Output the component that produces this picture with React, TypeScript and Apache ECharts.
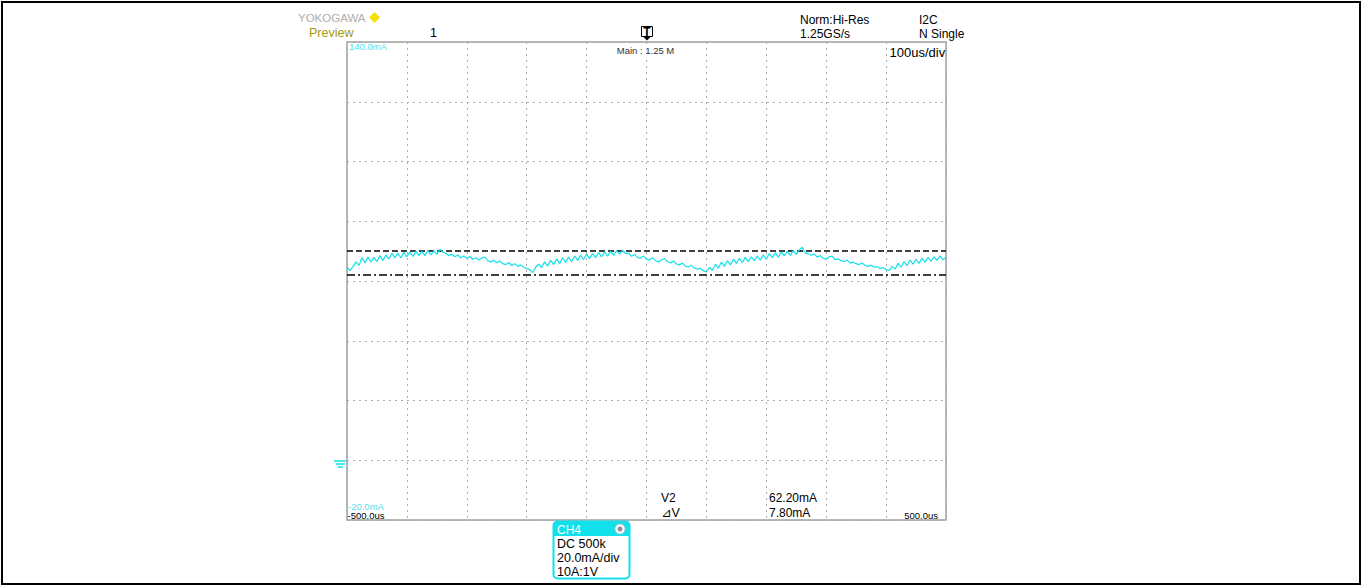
import React, { useEffect, useRef } from "react";
import * as echarts from "echarts";

// Time axis (µs)
const X_MIN = -500;
const X_MAX = 500;
const X_STEP = 100;
const SAMPLE_START_US = -500;
const SAMPLE_STEP_US = 5;

// Current axis (mA)
const Y_MIN = -20;
const Y_MAX = 140;
const Y_STEP = 20;

// Cursor levels (mA)
const CURSOR_V1 = 70.0;
const CURSOR_V2 = 62.2;

// CH4 current trace (mA), one sample every 5 µs from -500 µs to +500 µs
const CH4_MA = [
  64.6, 63.5, 64.8, 66.4, 65.2, 67.8, 66.0, 68.0, 66.4, 67.9,
  66.5, 68.5, 66.9, 68.7, 67.4, 69.3, 67.8, 69.3, 67.7, 69.6,
  68.1, 69.8, 68.2, 70.0, 68.5, 69.9, 68.5, 70.3, 68.7, 70.2,
  68.9, 70.6, 69.8,
  69.2, 68.5, 69.0, 68.1, 68.7, 67.8, 68.4, 67.6, 68.2, 67.3,
  67.8, 67.0, 67.7, 68.0, 66.8, 66.4, 67.0, 66.1, 66.7, 65.8,
  65.5, 66.2, 65.2, 65.8, 64.9, 65.4, 64.6, 64.2, 63.8, 62.8,
  64.6, 65.6, 64.5, 66.4, 65.0, 66.9, 65.5, 67.4, 65.8, 67.8,
  66.2, 68.0, 66.5, 68.4, 66.9, 68.6, 67.2, 69.0, 67.5, 69.2,
  67.8, 69.5, 68.1, 69.8, 68.3, 70.0, 68.6, 70.2, 69.0, 70.3,
  69.2, 69.3, 68.3, 68.9, 67.9, 67.6, 68.4, 67.3, 67.0, 67.8,
  66.8, 66.4, 67.0, 67.6, 66.5, 66.0, 66.7, 65.7, 65.4, 66.0,
  65.0, 64.7, 65.3, 64.3, 64.0, 64.2, 63.4, 63.0,
  64.5, 63.6, 65.6, 64.3, 66.3, 64.9, 66.8, 65.4, 67.3, 65.9,
  67.6, 66.2, 67.9, 66.5, 68.1, 66.8, 68.3, 67.0, 68.8, 67.3,
  69.2, 67.8, 69.4, 68.0, 69.7, 68.4, 69.9, 68.6, 70.2, 68.9,
  70.4, 71.3,
  69.4, 69.1, 68.6, 69.0, 68.0, 68.5, 67.6, 67.3, 68.1, 68.3,
  67.1, 67.4, 66.8, 66.5, 67.0, 66.0, 66.3, 65.8, 65.5, 66.0,
  65.2, 64.9, 65.3, 64.6, 64.8, 64.2, 64.5, 63.8, 63.5,
  64.9, 64.0, 65.9, 64.6, 66.5, 65.1, 67.0, 65.6, 67.3, 65.9,
  67.6, 66.3, 67.9, 66.6, 68.1, 66.9, 68.4, 67.1, 68.0,
];

// Texts
const HEADER_LEFT = ["YOKOGAWA", "Preview", "1"];
const HEADER_RIGHT = ["Norm:Hi-Res", "1.25GS/s", "I2C", "N Single"];
const PLOT_LABELS = ["140.0mA", "Main : 1.25 M", "100us/div", "-20.0mA", "-500.0us", "500.0us"];
const CURSOR_TEXT = ["V2", "62.20mA", "\u22BFV", "7.80mA"];
const CH_BOX = ["CH4", "DC 500k", "20.0mA/div", "10A:1V"];

const FONT = '"Liberation Sans", Arial, "DejaVu Sans", sans-serif';
const CYAN = "#12E0EA";
const CYAN_TEXT = "#4CE3F0";

export default function App() {
  const ref = useRef<HTMLDivElement>(null);

  useEffect(() => {
    if (!ref.current) return;
    const chart = echarts.init(ref.current, undefined, { renderer: "svg" });
    const data = CH4_MA.map((v, i) => [SAMPLE_START_US + i * SAMPLE_STEP_US, v]);

    const t = (text: string, x: number, y: number, size: number, fill: string, align = "left", extra: any = {}) => ({
      type: "text",
      style: { text, x, y, font: `${size}px ${FONT}`, fill, align, verticalAlign: "middle", ...extra },
      z: 100,
    });

    const graphic: any[] = [
      { type: "rect", shape: { x: 2, y: 2, width: 1358, height: 582 }, style: { fill: "none", stroke: "#000", lineWidth: 2 }, z: 100 },
      t(HEADER_LEFT[0], 298, 17.5, 11.5, "#ADADAD"),
      { type: "polygon", shape: { points: [[374.5, 12], [380, 17.5], [374.5, 23], [369, 17.5]] }, style: { fill: "#F2E400" }, z: 100 },
      t(HEADER_LEFT[1], 309, 33, 12.5, "#A39A12"),
      t(HEADER_LEFT[2], 430, 33, 12.5, "#000"),
      // trigger marker
      { type: "rect", shape: { x: 641.5, y: 26.5, width: 11, height: 10 }, style: { fill: "#fff", stroke: "#000", lineWidth: 1 }, z: 100 },
      t("T", 647, 31.8, 9, "#000", "center", { fontWeight: "bold" }),
      { type: "polygon", shape: { points: [[643, 36.5], [651, 36.5], [647, 40.5]] }, style: { fill: "#000" }, z: 100 },
      t(HEADER_RIGHT[0], 800, 19.5, 12, "#000"),
      t(HEADER_RIGHT[1], 800, 33.5, 12, "#000"),
      t(HEADER_RIGHT[2], 919, 19.5, 12, "#000"),
      t(HEADER_RIGHT[3], 919, 33.5, 12, "#000"),
      // plot labels
      t(PLOT_LABELS[0], 349, 46.5, 9.5, CYAN_TEXT),
      { type: "rect", shape: { x: 614, y: 44, width: 63, height: 12 }, style: { fill: "#fff" }, z: 99 },
      t(PLOT_LABELS[1], 645.5, 50, 9.5, "#333", "center"),
      { type: "rect", shape: { x: 888, y: 44, width: 57, height: 16 }, style: { fill: "#fff" }, z: 99 },
      t(PLOT_LABELS[2], 889.5, 52.5, 13, "#000"),
      t(PLOT_LABELS[3], 348, 506, 9.5, CYAN_TEXT),
      t(PLOT_LABELS[4], 347.5, 515, 9.5, "#000"),
      t(PLOT_LABELS[5], 938, 515.5, 9.5, "#000", "right"),
      // cursor readout
      t(CURSOR_TEXT[0], 661, 498, 12, "#000"),
      t(CURSOR_TEXT[1], 769, 498, 12, "#000"),
      t(CURSOR_TEXT[2], 661, 513, 12.5, "#000"),
      t(CURSOR_TEXT[3], 769, 513, 12, "#000"),
      // channel box
      { type: "rect", shape: { x: 553.5, y: 521.5, width: 76, height: 57, r: 4 }, style: { fill: "#fff", stroke: CYAN, lineWidth: 2 }, z: 100 },
      { type: "rect", shape: { x: 554, y: 522, width: 75, height: 14, r: [3, 3, 0, 0] }, style: { fill: CYAN }, z: 101 },
      { type: "text", style: { text: CH_BOX[0], x: 557, y: 529.5, font: `12px ${FONT}`, fill: "#fff", verticalAlign: "middle" }, z: 102 },
      { type: "circle", shape: { cx: 620, cy: 529, r: 5 }, style: { fill: "#fff", stroke: "#B8C4CC", lineWidth: 1 }, z: 102 },
      { type: "circle", shape: { cx: 620, cy: 529, r: 2.5 }, style: { fill: "#8C8CA8" }, z: 103 },
      { type: "text", style: { text: CH_BOX[1], x: 557, y: 544, font: `12.5px ${FONT}`, fill: "#000", verticalAlign: "middle" }, z: 102 },
      { type: "text", style: { text: CH_BOX[2], x: 557, y: 558, font: `12.5px ${FONT}`, fill: "#000", verticalAlign: "middle" }, z: 102 },
      { type: "text", style: { text: CH_BOX[3], x: 557, y: 572, font: `12.5px ${FONT}`, fill: "#000", verticalAlign: "middle" }, z: 102 },
      // ground marker
      { type: "line", shape: { x1: 334, y1: 461, x2: 346, y2: 461 }, style: { stroke: CYAN, lineWidth: 1.5 }, z: 100 },
      { type: "line", shape: { x1: 336, y1: 464, x2: 345, y2: 464 }, style: { stroke: CYAN, lineWidth: 1.5 }, z: 100 },
      { type: "line", shape: { x1: 338, y1: 467, x2: 343, y2: 467 }, style: { stroke: CYAN, lineWidth: 1.5 }, z: 100 },
    ];

    chart.setOption({
      animation: false,
      backgroundColor: "#fff",
      grid: { left: 347, top: 42, width: 599, height: 478, show: true, borderColor: "#A0A0A0", borderWidth: 1.5, backgroundColor: "transparent" },
      xAxis: {
        type: "value", min: X_MIN, max: X_MAX, interval: X_STEP,
        axisLine: { show: false }, axisTick: { show: false }, axisLabel: { show: false },
        splitLine: { show: true, lineStyle: { color: "#ABABAB", width: 1, type: [2, 4] } },
      },
      yAxis: {
        type: "value", min: Y_MIN, max: Y_MAX, interval: Y_STEP,
        axisLine: { show: false }, axisTick: { show: false }, axisLabel: { show: false },
        splitLine: { show: true, lineStyle: { color: "#ABABAB", width: 1, type: [2, 4] } },
      },
      series: [
        {
          type: "line",
          data,
          showSymbol: false,
          symbol: "none",
          lineStyle: { color: CYAN, width: 1.2 },
          z: 5,
          markLine: {
            silent: true,
            symbol: ["none", "none"],
            label: { show: false },
            lineStyle: { color: "#000", width: 1.5 },
            data: [
              { yAxis: CURSOR_V1, lineStyle: { color: "#000", width: 1.5, type: [6, 3] } },
              { yAxis: CURSOR_V2, lineStyle: { color: "#000", width: 1.5, type: [8, 3, 2, 3] } },
            ],
          },
        },
      ],
      graphic,
    });

    return () => chart.dispose();
  }, []);

  return <div ref={ref} style={{ position: "absolute", left: 0, top: 0, width: 1362, height: 586 }} />;
}
